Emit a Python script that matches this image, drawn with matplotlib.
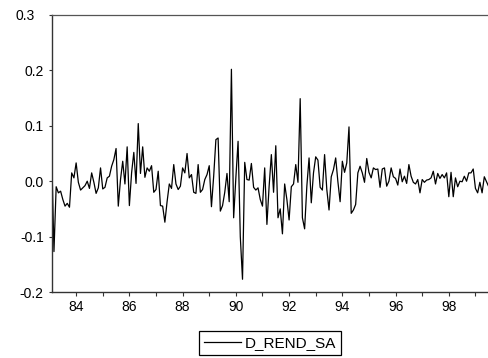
import numpy as np
import matplotlib
matplotlib.use("Agg")
import matplotlib.pyplot as plt
from matplotlib import ticker
from matplotlib.transforms import ScaledTranslation

plt.rcParams["font.family"] = ["Liberation Sans", "DejaVu Sans"]

# monthly series, 1983M02 .. 1999M07
series_name = "D_REND_SA"
start_year = 1983
start_month = 2

d_rend_sa = [
    # 1983 - 1988
    0.046, -0.127, -0.010, -0.021, -0.018, -0.033, -0.045, -0.040, -0.047, 0.015,
    0.006, 0.033, -0.002, -0.016, -0.012, -0.008, 0.000, -0.013, 0.015, -0.002,
    -0.022, -0.012, 0.024, -0.014, -0.011, 0.006, 0.009, 0.027, 0.039, 0.059,
    -0.045, 0.003, 0.036, -0.005, 0.062, -0.044, 0.015, 0.052, -0.004, 0.104,
    0.014, 0.062, 0.007, 0.024, 0.018, 0.028, -0.020, -0.015, 0.018, -0.044,
    -0.045, -0.074, -0.037, -0.005, -0.013, 0.030, -0.005, -0.015, -0.009, 0.024,
    0.015, 0.050, 0.006, 0.012, -0.020, -0.022, 0.030,
    # 1988 - 1994
    -0.020, -0.015, 0.003, 0.012, 0.028, -0.046, 0.009, 0.075, 0.078, -0.054,
    -0.044, -0.020, 0.014, -0.037, 0.202, -0.066, 0.006, 0.072, -0.100, -0.177,
    0.034, 0.003, 0.002, 0.032, -0.011, -0.016, -0.012, -0.033, -0.045, 0.024,
    -0.078, -0.009, 0.048, -0.020, 0.064, -0.066, -0.050, -0.095, -0.005, -0.033,
    -0.070, -0.010, -0.005, 0.030, -0.002, 0.149, -0.066, -0.086, -0.009, 0.042,
    -0.039, 0.015, 0.044, 0.038, -0.011, -0.016, 0.048, -0.015, -0.052, 0.008,
    0.021, 0.042, -0.001,
    # 1994 - 1999
    -0.037, 0.036, 0.016, 0.033, 0.098, -0.058, -0.052, -0.042, 0.015, 0.027,
    0.015, -0.002, 0.041, 0.016, 0.006, 0.024, 0.021, 0.022, -0.011, 0.022,
    0.024, -0.009, 0.000, 0.024, 0.008, 0.005, -0.007, 0.022, -0.001, 0.009,
    -0.004, 0.030, 0.009, -0.002, -0.005, 0.003, -0.021, 0.003, -0.002, 0.002,
    0.003, 0.006, 0.018, -0.005, 0.014, 0.005, 0.012, 0.006, 0.015, -0.028,
    0.016, -0.028, 0.006, -0.010, 0.000, -0.001, 0.009, 0.000, 0.015, 0.015,
    0.022, -0.013, -0.021, -0.002, -0.021, 0.008, -0.001, -0.010,
]

y_ticks = [-0.2, -0.1, 0.0, 0.1, 0.2, 0.3]
x_labels = [84, 86, 88, 90, 92, 94, 96, 98]

# time axis in two-digit years (EViews style)
t = (start_year - 1900) + (start_month - 1) / 12 + np.arange(len(d_rend_sa)) / 12

W, H = 489, 358
fig = plt.figure(figsize=(W / 100, H / 100), dpi=100)
fig.set_facecolor("white")

## axes box placed in pixels
left, right, top, bottom = 52, 491, 15, 292
ax = fig.add_axes([left / W, (H - bottom) / H, (right - left) / W, (bottom - top) / H])

ax.plot(t, d_rend_sa, color="black", lw=0.9, label=series_name)

ax.set_xlim(t[0] + 0.01, t[0] + 0.01 + (right - left) / 26.62)
ax.set_ylim(-0.2, 0.3)

## spines
for side in ("left", "bottom"):
    ax.spines[side].set_color("#333333")
    ax.spines[side].set_linewidth(1.0)
ax.spines["top"].set_color("#555555")
ax.spines["top"].set_linewidth(0.9)
ax.spines["right"].set_visible(False)

## ticks
ax.set_yticks(y_ticks)
ax.yaxis.set_major_formatter(ticker.FormatStrFormatter("%.1f"))
ax.set_xticks(x_labels)
ax.set_xticklabels([str(v) for v in x_labels])
ax.xaxis.set_minor_locator(ticker.MultipleLocator(1))
ax.tick_params(axis="x", which="both", direction="out", length=3, width=0.8,
               labelsize=10, pad=3, color="#333333")
ax.tick_params(axis="y", direction="out", length=2, width=0.8,
               labelsize=10, pad=4, color="#333333")

# the top label sits a bit further left in the original
top_lab = ax.get_yticklabels()[-1]
top_lab.set_transform(top_lab.get_transform() + ScaledTranslation(-0.09, 0, fig.dpi_scale_trans))

## legend below the plot
leg = fig.legend(loc="center", bbox_to_anchor=(270 / W, (H - 343) / H),
                 frameon=True, fancybox=False, edgecolor="black", framealpha=1,
                 fontsize=11, handlelength=2.4, handletextpad=0.25,
                 borderpad=0.3, borderaxespad=0)
leg.get_frame().set_linewidth(0.9)

fig.savefig("out.png", dpi=100)
